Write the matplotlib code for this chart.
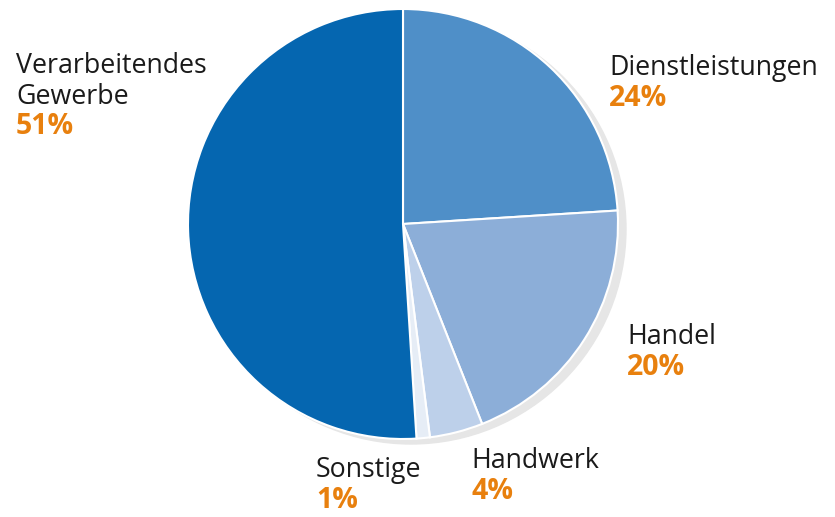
import matplotlib.pyplot as plt
from matplotlib.patches import Circle

# data, clockwise from 12 o'clock
categories = ["Dienstleistungen", "Handel", "Handwerk", "Sonstige", "Verarbeitendes\nGewerbe"]
shares = [24, 20, 4, 1, 51]
colors = ["#4f8fc8", "#8caed8", "#bdd0ea", "#e6edf6", "#0566b0"]

W, H = 835, 517
fig = plt.figure(figsize=(W / 100, H / 100), dpi=100)
ax = fig.add_axes([0, 0, 1, 1])

cx, cy, r = 403, H - 224, 215

# soft shadow behind the pie
ax.add_patch(Circle((cx + 8, cy - 5), r, color="#e6e6e6", zorder=0))

ax.pie(shares, colors=colors, startangle=90, counterclock=False,
       center=(cx, cy), radius=r, frame=True,
       wedgeprops=dict(edgecolor="white", linewidth=1.5))
ax.set_xlim(0, W)
ax.set_ylim(0, H)
ax.set_aspect("equal")
ax.axis("off")

# label positions: left x, centre y of the first line (pixels, top-down)
label_pos = [(609, 68), (627, 337), (471, 461), (316, 470), (16, 66)]
line_h = 30.5
font = "Open Sans"
orange = "#e8800e"

for name, val, (x, y) in zip(categories, shares, label_pos):
    lines = name.split("\n")
    for i, ln in enumerate(lines):
        ax.text(x, H - (y + i * line_h), ln, fontsize=19.3, family=font,
                color="#1a1a1a", ha="left", va="center")
    ax.text(x, H - (y + len(lines) * line_h), f"{val}%", fontsize=20.5,
            family=font, weight="bold", color=orange, ha="left", va="center")

fig.savefig("out.png", dpi=100)
